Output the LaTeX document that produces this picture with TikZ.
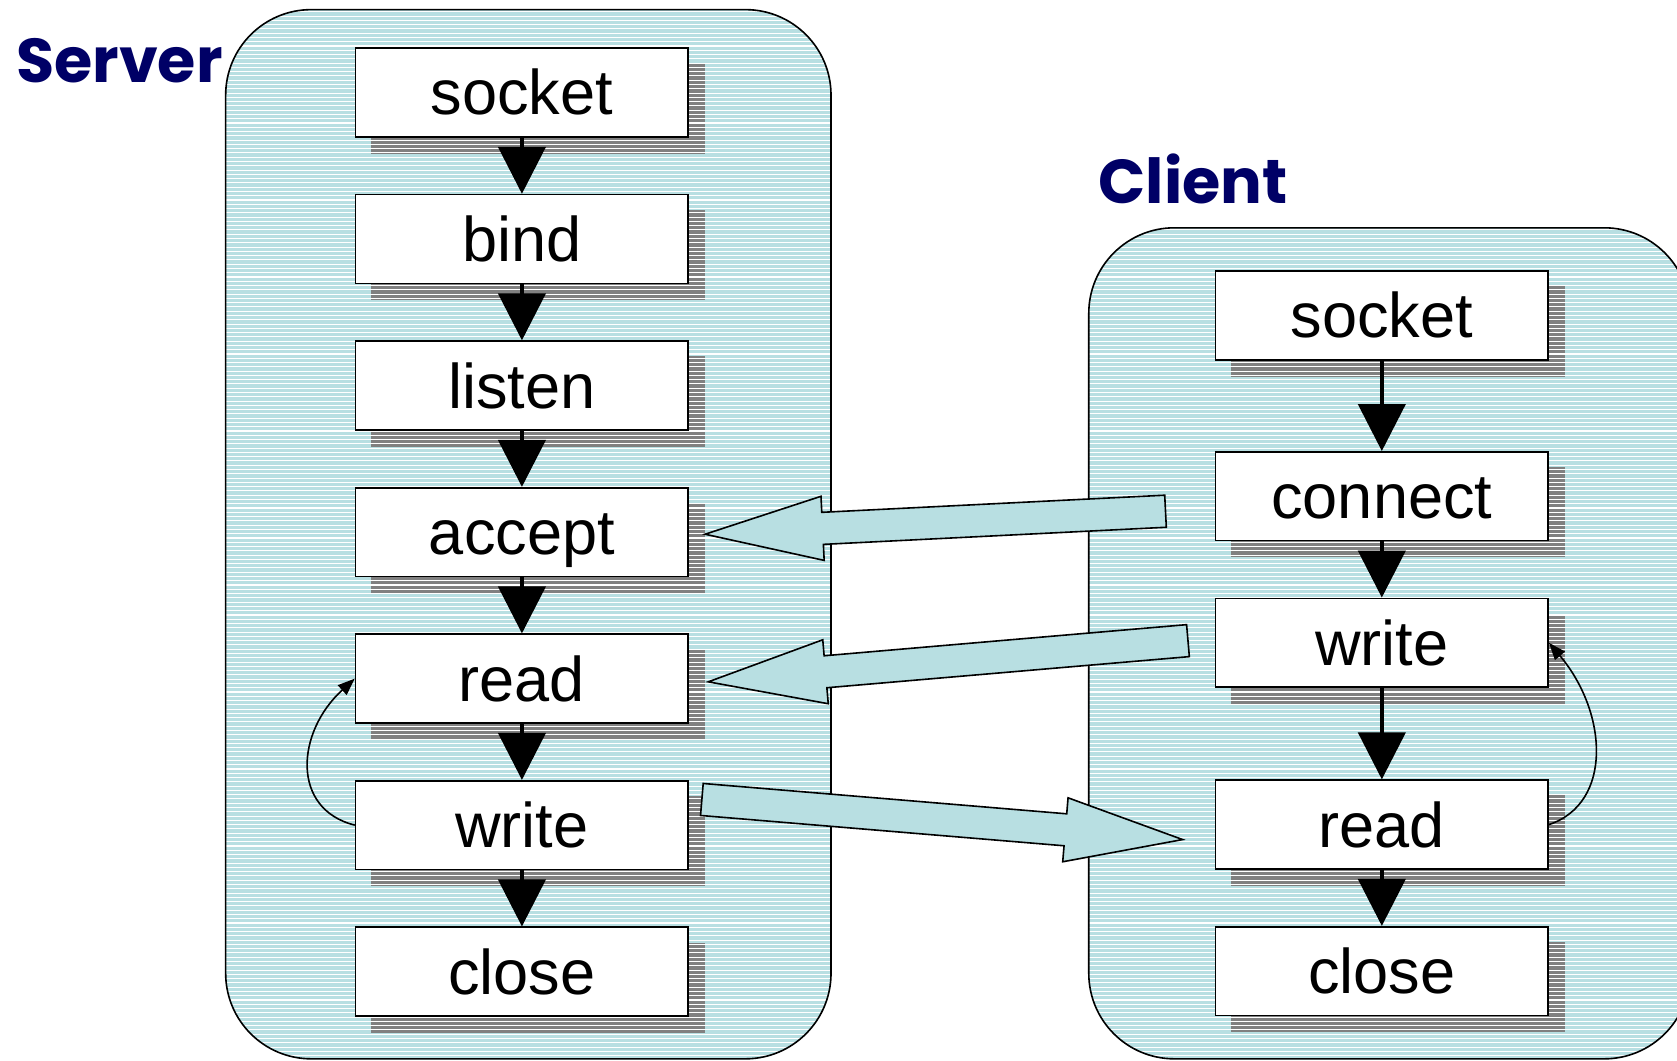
\documentclass[tikz,border=0pt]{standalone}
\usepackage{fontspec}
\setmainfont{Liberation Sans}
\newfontfamily\titlefont{Poppins}
\usepackage{tikz}
\usetikzlibrary{arrows.meta}
\usetikzlibrary{calc}
\usetikzlibrary{matrix}
\usetikzlibrary{positioning}

\definecolor{panelblue}{RGB}{184,223,226}
\definecolor{titleblue}{RGB}{0,0,102}
\definecolor{shadowgray}{RGB}{128,128,128}

\pgfdeclarelayer{panel}
\pgfdeclarelayer{shade}
\pgfdeclarelayer{stripes}
\pgfsetlayers{panel,shade,stripes,main}

\tikzset{
  callbox/.style={draw,line width=1.5pt,fill=white,minimum width=311pt,minimum height=83pt,
    inner sep=0pt,text height=42pt,text depth=0pt,font=\fontsize{59}{60}\selectfont},
  callshadow/.style={fill=shadowgray},
  panelbox/.style={draw=black,line width=1.5pt,rounded corners=80pt},
  stripe/.style={white,line width=1pt},
  flow/.style={line width=4pt,-{Triangle[length=44pt,width=44pt]}},
  loopback/.style={line width=1.5pt,-{Triangle[length=16pt,width=12pt]}},
  bigarrow/.style={draw=black,line width=1.5pt,fill=panelblue,line join=miter},
  sidelabel/.style={font=\titlefont\bfseries\fontsize{58}{60}\selectfont,text=titleblue,inner sep=0pt}
}

% hollow message arrow from #1 to #2
\newcommand\fatarrow[2]{%
  \path ($(#2)!110pt!(#1)$) coordinate (hb);
  \draw[bigarrow]
    ($(#1)!15pt!90:(#2)$) -- ($(hb)!15pt!90:(#2)$) -- ($(hb)!30pt!90:(#2)$) -- (#2)
    -- ($(hb)!30pt!-90:(#2)$) -- ($(hb)!15pt!-90:(#2)$) -- ($(#1)!15pt!-90:(#2)$) -- cycle;
}

\begin{document}
\begin{tikzpicture}[x=1pt,y=-1pt]

  \useasboundingbox (0,0) rectangle (1568,992);

  \node [sidelabel,anchor=base west] (stitle) at (15,77) {Server};
  \node [sidelabel,anchor=base west] (ctitle) at (1027,190) {Client};

  \matrix (smat) [matrix of nodes,nodes=callbox,row sep=52.5pt] at (488,497.5) {
    |(ssocket)| socket \\
    |(sbind)| bind \\
    |(slisten)| listen \\
    |(saccept)| accept \\
    |(sread)| read \\
    |(swrite)| write \\
    |(sclose)| close \\
  };

  \matrix (cmat) [matrix of nodes,nodes=callbox,row sep=52.5pt] at (1292,601.5) {
    |(csocket)| socket \\[32pt]
    |(cconnect)| connect \\
    |(cwrite)| write \\[33pt]
    |(cread)| read \\
    |(cclose)| close \\
  };

  \begin{pgfonlayer}{panel}
    \fill[panelblue,rounded corners=80pt] (211,9) rectangle (777,990);
    \fill[panelblue,rounded corners=80pt] (1018,213) rectangle (1580,990);
  \end{pgfonlayer}

  \begin{pgfonlayer}{shade}
    \foreach \n in {ssocket,sbind,slisten,saccept,sread,swrite,sclose,
                    csocket,cconnect,cwrite,cread,cclose}
      \fill[callshadow] ($(\n.north west)+(15,15)$) rectangle ($(\n.south east)+(15,15)$);
  \end{pgfonlayer}

  \begin{pgfonlayer}{stripes}
    \begin{scope}
      \clip[rounded corners=80pt] (211,9) rectangle (777,990);
      \foreach \y in {11,15,...,990}
        \draw[stripe] (211,\y) -- (777,\y);
    \end{scope}
    \begin{scope}
      \clip[rounded corners=80pt] (1018,213) rectangle (1580,990);
      \foreach \y in {215,219,...,990}
        \draw[stripe] (1018,\y) -- (1580,\y);
    \end{scope}
    \draw[panelbox] (211,9) rectangle (777,990);
    \draw[panelbox] (1018,213) rectangle (1580,990);
  \end{pgfonlayer}

  \foreach \a/\b in {ssocket/sbind,sbind/slisten,slisten/saccept,saccept/sread,sread/swrite,
                     swrite/sclose,csocket/cconnect,cconnect/cwrite,cwrite/cread,cread/cclose}
    \draw[flow] (\a) -- (\b);

  \draw[loopback] (swrite.west) .. controls +(-60,-15) and +(-55,50) .. (sread.west);
  \draw[loopback] (cread.east) .. controls +(60,-20) and +(55,65) .. (cwrite.east);

  \coordinate (conntail) at ($(cconnect.west)+(-46,14)$);
  \coordinate (writetail) at ($(cwrite.west)+(-25,-2)$);
  \coordinate (replytail) at ($(swrite.east)+(12,-24)$);
  \coordinate (accepttip) at ($(saccept.east)+(15,2)$);
  \coordinate (readtip) at ($(sread.east)+(18,3)$);
  \coordinate (replytip) at ($(cread.west)+(-30,14)$);

  \fatarrow{conntail}{accepttip}
  \fatarrow{writetail}{readtip}
  \fatarrow{replytail}{replytip}

\end{tikzpicture}
\end{document}
